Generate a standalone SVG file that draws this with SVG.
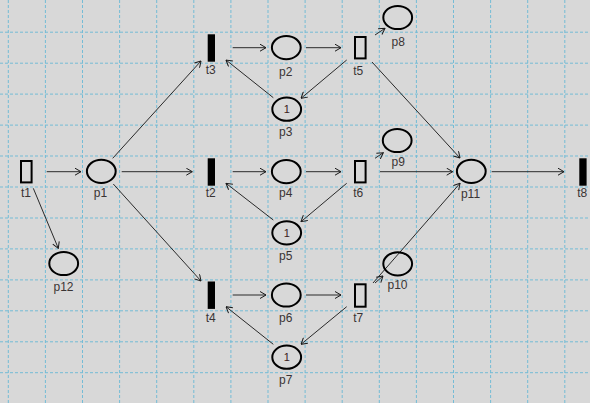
<svg xmlns="http://www.w3.org/2000/svg" width="590" height="403" viewBox="0 0 590 403">
<style>
.g{stroke:#74bcd6;stroke-width:1;stroke-dasharray:3 2;fill:none}
.pl{fill:none;stroke:#000;stroke-width:2}
.th{fill:none;stroke:#000;stroke-width:2}
.tf{fill:#000;stroke:none}
.lb{font-family:"Liberation Sans",Arial,sans-serif;font-size:12px;fill:#3a3434;text-anchor:middle}
.tk{font-family:"Liberation Sans",Arial,sans-serif;font-size:11px;fill:#3a2020;text-anchor:middle}
.a{stroke:#2a2a2a;stroke-width:1;fill:none;marker-end:url(#ah)}
</style>
<defs>
<marker id="ah" viewBox="0 0 8 8" refX="7.5" refY="4" markerWidth="8" markerHeight="8" markerUnits="userSpaceOnUse" orient="auto">
<path d="M1.5,0.5 L7.5,4 L1.5,7.5" fill="none" stroke="#1a1a1a" stroke-width="1"/>
</marker>
</defs>
<rect x="0" y="0" width="590" height="403" fill="#d8d8d8"/>
<g id="grid">
<path class="g" d="M8.3,0V403M45.4,0V403M82.5,0V403M119.6,0V403M156.7,0V403M193.8,0V403M230.9,0V403M268,0V403M305.1,0V403M342.2,0V403M379.3,0V403M416.4,0V403M453.5,0V403M490.6,0V403M527.7,0V403M564.8,0V403"/>
<path class="g" d="M0,32.2H590M0,63.2H590M0,94.1H590M0,125.1H590M0,156H590M0,187H590M0,218H590M0,248.9H590M0,279.9H590M0,310.8H590M0,341.8H590M0,372.7H590"/>
</g>
<g id="connectors">
<line class="a" x1="46.7" y1="171.7" x2="81" y2="171.7"/>
<line class="a" x1="33.3" y1="188.3" x2="58.3" y2="248.3"/>
<line class="a" x1="112.7" y1="158.3" x2="201" y2="61"/>
<line class="a" x1="121.7" y1="171.7" x2="192.3" y2="171.7"/>
<line class="a" x1="113.3" y1="184" x2="201" y2="281"/>
<line class="a" x1="232.7" y1="47.7" x2="266" y2="47.7"/>
<line class="a" x1="306" y1="47.7" x2="341" y2="47.7"/>
<line class="a" x1="346.7" y1="60" x2="301" y2="98.3"/>
<line class="a" x1="273.3" y1="97.7" x2="226" y2="60"/>
<line class="a" x1="375" y1="35" x2="385" y2="28.3"/>
<line class="a" x1="372" y1="62" x2="460" y2="158"/>
<line class="a" x1="232.7" y1="171.7" x2="266" y2="171.7"/>
<line class="a" x1="306" y1="171.7" x2="341" y2="171.7"/>
<line class="a" x1="346.7" y1="183.3" x2="301" y2="221.7"/>
<line class="a" x1="273.3" y1="220" x2="226" y2="183.3"/>
<line class="a" x1="375" y1="158.3" x2="383.3" y2="152.7"/>
<line class="a" x1="380" y1="171.7" x2="452.7" y2="171.7"/>
<line class="a" x1="491.7" y1="171.7" x2="564" y2="171.7"/>
<line class="a" x1="232.7" y1="295" x2="266" y2="295"/>
<line class="a" x1="306" y1="295" x2="341" y2="295"/>
<line class="a" x1="346.7" y1="306.7" x2="301" y2="344.3"/>
<line class="a" x1="273.3" y1="344.3" x2="226" y2="306.7"/>
<line class="a" x1="375" y1="283" x2="383" y2="276"/>
<line class="a" x1="373" y1="283" x2="460" y2="183.3"/>
</g>
<g id="t1"><rect class="th" x="21" y="161" width="10.6" height="21.4"/><text class="lb" x="26" y="197">t1</text></g>
<g id="p1"><ellipse class="pl" cx="101.3" cy="171.3" rx="14.4" ry="11.6"/><text class="lb" x="100.5" y="197">p1</text></g>
<g id="p12"><ellipse class="pl" cx="63.7" cy="263.5" rx="14.4" ry="11.6"/><text class="lb" x="63.5" y="290.5">p12</text></g>
<g id="t3"><rect class="tf" x="207.7" y="34.3" width="7.3" height="27.4"/><text class="lb" x="210.7" y="74">t3</text></g>
<g id="t2"><rect class="tf" x="207.7" y="158.3" width="7.3" height="27.4"/><text class="lb" x="210.7" y="197">t2</text></g>
<g id="t4"><rect class="tf" x="207.7" y="281.5" width="7.3" height="27.4"/><text class="lb" x="210.7" y="321.5">t4</text></g>
<g id="p2"><ellipse class="pl" cx="286.3" cy="47.6" rx="14.4" ry="11.6"/><text class="lb" x="285.7" y="75.5">p2</text></g>
<g id="p3"><ellipse class="pl" cx="286.7" cy="109.2" rx="14.4" ry="11.6"/><text class="tk" x="286.7" y="113">1</text><text class="lb" x="285.7" y="136">p3</text></g>
<g id="p4"><ellipse class="pl" cx="286.3" cy="171.6" rx="14.4" ry="11.6"/><text class="lb" x="285.7" y="197">p4</text></g>
<g id="p5"><ellipse class="pl" cx="286.7" cy="232.8" rx="14.4" ry="11.6"/><text class="tk" x="286.7" y="236.8">1</text><text class="lb" x="285.7" y="260">p5</text></g>
<g id="p6"><ellipse class="pl" cx="286.3" cy="295" rx="14.4" ry="11.6"/><text class="lb" x="285.7" y="322">p6</text></g>
<g id="p7"><ellipse class="pl" cx="286.7" cy="357.2" rx="14.4" ry="11.6"/><text class="tk" x="286.7" y="361.2">1</text><text class="lb" x="285.7" y="384">p7</text></g>
<g id="t5"><rect class="th" x="355" y="37" width="10.6" height="21.4"/><text class="lb" x="358.3" y="75">t5</text></g>
<g id="t6"><rect class="th" x="355" y="161" width="10.6" height="21.4"/><text class="lb" x="358.3" y="197">t6</text></g>
<g id="t7"><rect class="th" x="355" y="284.3" width="10.6" height="22.4"/><text class="lb" x="358.3" y="321.5">t7</text></g>
<g id="p8"><ellipse class="pl" cx="397.7" cy="17.5" rx="14.4" ry="11.6"/><text class="lb" x="398.3" y="45.5">p8</text></g>
<g id="p9"><ellipse class="pl" cx="397.2" cy="140.5" rx="14.4" ry="11.6"/><text class="lb" x="398.3" y="165.5">p9</text></g>
<g id="p10"><ellipse class="pl" cx="397.7" cy="263.8" rx="14.4" ry="11.6"/><text class="lb" x="397.5" y="289">p10</text></g>
<g id="p11"><ellipse class="pl" cx="471.3" cy="171.3" rx="14.4" ry="11.6"/><text class="lb" x="470.5" y="198">p11</text></g>
<g id="t8"><rect class="tf" x="579.3" y="158.3" width="7.3" height="27.4"/><text class="lb" x="582.3" y="197">t8</text></g>
</svg>
